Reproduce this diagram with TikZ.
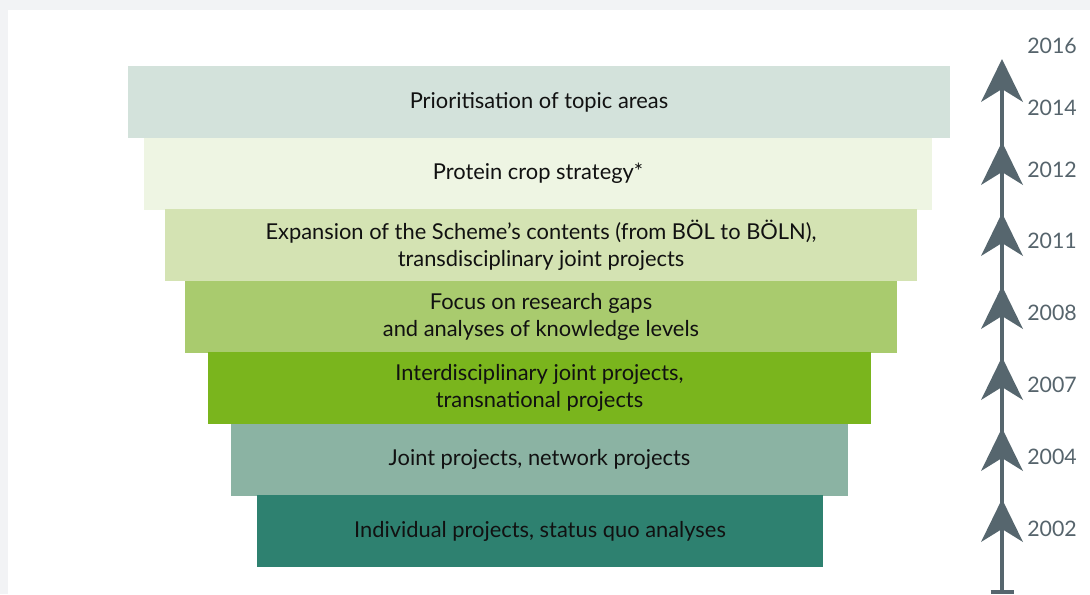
\documentclass[tikz,border=0pt]{standalone}
\usepackage{fontspec}
\setmainfont{Lato}
\definecolor{bggray}{HTML}{F2F3F5}
\definecolor{cA}{HTML}{D3E2DB}
\definecolor{cB}{HTML}{EEF5E3}
\definecolor{cC}{HTML}{D4E3B3}
\definecolor{cD}{HTML}{A9CB6E}
\definecolor{cE}{HTML}{7AB51D}
\definecolor{cF}{HTML}{8BB3A3}
\definecolor{cG}{HTML}{2E8170}
\definecolor{axis}{HTML}{56666E}
\definecolor{yeartxt}{HTML}{56646C}
\definecolor{txt}{HTML}{111111}
\tikzset{
  stage/.style={inner sep=0pt, minimum height=54pt, align=center, text=txt,
    font=\fontsize{16.4}{20.3}\selectfont},
  year/.style={anchor=west, inner sep=0pt, text=yeartxt, font=\fontsize{16}{18}\selectfont},
  axisline/.style={draw=axis, line width=3pt},
  head/.style={fill=axis, draw=none}
}
\begin{document}
\begin{tikzpicture}[x=0.75pt,y=-0.75pt]
\useasboundingbox (0,0) rectangle (1090,594);
\fill[bggray] (0,0) rectangle (1090,594);
\fill[white] (8,10) rectangle (1090,594);

\node[stage, fill=cA, minimum width=616.5pt] (s1) at (539,102) {Prioritisation of topic areas};
\node[stage, fill=cB, minimum width=591pt] (s2) at (538,173.5) {Protein crop strategy*};
\node[stage, fill=cC, minimum width=564pt] (s3) at (541,245) {Expansion of the Scheme’s contents (from BÖL to BÖLN),\\transdisciplinary joint projects};
\node[stage, fill=cD, minimum width=534pt] (s4) at (541,316.5) {Focus on research gaps\\and analyses of knowledge levels};
\node[stage, fill=cE, minimum width=497.25pt] (s5) at (539.5,388) {Interdisciplinary joint projects,\\transnational projects};
\node[stage, fill=cF, minimum width=462.75pt] (s6) at (539.5,459.5) {Joint projects, network projects};
\node[stage, fill=cG, minimum width=424.5pt] (s7) at (540,531) {Individual projects, status quo analyses};

% timeline
\coordinate (base) at (1002,592);
\coordinate (top) at (1002,75);
\draw[axisline] (base) -- (top);
\draw[draw=axis, line width=2.5pt] ([xshift=-11.5*0.75pt]base) -- ([xshift=11.5*0.75pt]base);
\foreach \t in {59,142,213,286,357,428,499}{
  \fill[head] (1002,\t) -- (1023,\t+43) -- (1002,\t+30) -- (981,\t+43) -- cycle;
}

\node[year] (y2016) at (1027,46) {2016};
\node[year] (y2014) at (1027,108) {2014};
\node[year] (y2012) at (1027,170) {2012};
\node[year] (y2011) at (1027,241) {2011};
\node[year] (y2008) at (1027,313) {2008};
\node[year] (y2007) at (1027,385) {2007};
\node[year] (y2004) at (1027,457) {2004};
\node[year] (y2002) at (1027,529) {2002};
\end{tikzpicture}
\end{document}
